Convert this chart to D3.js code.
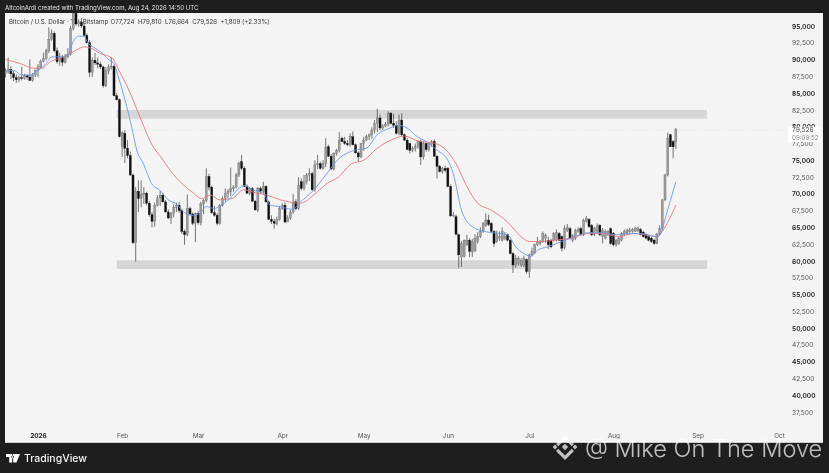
<!DOCTYPE html>
<html><head><meta charset="utf-8">
<script src="https://cdn.jsdelivr.net/npm/d3@7/dist/d3.min.js"></script>
<style>
html,body{margin:0;padding:0;background:#1e1e1e;overflow:hidden}
svg{display:block;filter:blur(0.3px)}
text{font-family:Inter,Roboto,"Liberation Sans",sans-serif}
</style></head><body><div id="c"></div>
<script>
const firstDay = "2025-12-20";
const opens = [
87900,88400,88500,87900,87300,87000,87300,87200,87600,87400,
86900,87700,88400,88900,89700,90200,91300,93000,93900,91300,
89700,90400,89600,90400,90800,94600,96900,95300,95600,95000,
93600,92500,88100,89900,89500,89300,88900,86100,88300,88900,
89000,84600,84000,77100,79000,76800,75700,72800,62700,70400,
69300,69900,70100,68600,66900,65900,68300,69400,69800,68800,
67300,66400,67100,68000,68300,67500,64400,63900,67800,67000,
65600,67100,65700,68500,69000,72600,71000,67200,66800,65600,
68300,69300,70100,70300,70800,71000,72800,74800,73800,71100,
70100,70800,68900,67600,70800,70400,71100,68800,66200,65900,
65600,66200,67800,68300,65800,66400,67300,68800,67800,71800,
70800,71800,72800,73000,70600,74300,74500,73800,74500,77000,
75600,73700,76000,76500,78300,77800,77500,77300,78500,77300,
76100,75500,77500,78000,78500,78800,79500,80500,81300,79800,
80100,80400,82000,80500,80200,79000,81000,78800,78000,77500,
76500,76800,77000,77800,75500,77500,76600,77300,77800,75600,
74100,73300,73800,73800,71100,66700,66600,63900,60600,60700,
62400,63100,61300,61500,62900,63600,64400,65300,66100,65600,
64400,62900,63400,63100,63300,63900,63100,61100,59400,59600,
59400,59400,60200,58400,60900,61200,62400,62600,62900,63400,
63100,63100,63100,63100,64100,63600,62000,64600,64800,63100,
63400,64400,64800,63900,65900,66200,65300,63900,64400,65300,
63600,63400,63900,64800,64100,62400,62600,63100,63900,64100,
64400,64400,64400,64500,64700,64300,63900,63600,63400,63100,
62600,64000,64800,69100,72800,78800,77800,77724];
const highs = [
88700,90300,89000,88300,87800,87600,88900,87900,87800,90000,
88000,88500,89300,90000,91000,91600,94800,94500,94200,91800,
91000,90700,90800,91700,95000,98000,97300,96000,96200,95500,
93900,92900,90300,91000,90300,89700,89100,88900,89300,90300,
89200,85000,84200,79300,79500,78000,76300,73000,71000,72000,
72000,71000,70300,68900,67300,68700,69800,70400,70100,69100,
67700,67300,68400,68700,68800,67800,64700,69900,68100,67200,
67200,67400,68800,69200,73800,73000,71200,68200,67100,68500,
69600,70800,70700,73900,71300,73100,74800,75800,74100,71400,
71000,71000,69100,71000,71100,71800,71300,69000,66800,66300,
66600,68200,68600,68700,66800,67600,70000,69200,72500,72300,
72800,73100,73800,73300,75000,75800,74800,75000,78300,77300,
75900,76200,76700,79200,78500,78500,78000,79000,79300,77500,
76300,77600,78500,78800,79000,79900,81000,82700,81800,80400,
80700,82300,82200,81900,80800,81800,82000,79000,78300,77600,
77100,77500,78000,78100,77800,77600,77600,78000,78100,75800,
74300,74000,74200,74000,71400,67300,66900,64100,63000,63200,
63900,63400,63300,64000,64300,65000,65800,67100,66900,65800,
64600,64500,64400,65000,64300,64100,63300,61300,60900,60700,
60400,60800,60400,61100,62000,62600,63600,63100,64400,64100,
63600,63300,64300,64700,64300,63800,65300,65500,65100,64000,
64800,65000,65100,66300,66700,66400,65500,65100,65600,65500,
64900,64700,64600,65000,64300,63300,63700,64300,64700,64800,
64900,64900,65100,65100,64900,64500,64100,63800,63600,63300,
64200,65300,69200,73000,79100,78900,78000,79810];
const lows = [
87300,87900,87100,86800,86500,86600,86900,87000,87000,86800,
86700,87400,87400,88700,89600,89900,91000,92800,91100,89400,
89100,89000,89400,90200,90600,94300,95000,94900,94700,93400,
92400,87400,87400,89200,88700,88600,85800,85900,87800,88500,
84500,83900,78400,75500,74600,75300,72700,62500,59900,67300,
68000,68500,68300,66600,65000,65100,68100,68200,68700,67200,
66200,65500,66500,67300,67200,64000,62400,63700,66800,65300,
62800,65400,65300,67000,68700,70500,67000,66600,65300,65400,
68100,68900,69300,69700,70300,70800,72500,73500,71000,70000,
69800,68800,67500,67300,70000,70100,68700,66100,65500,64800,
65300,66000,67600,65600,65800,66100,67000,67600,67600,70500,
70500,71400,71900,70400,70300,73700,73600,73600,74000,75500,
73500,73500,75700,76200,77700,77300,77100,77000,77200,76000,
74800,75300,76400,77900,78000,78200,79000,79200,79500,79500,
79900,80000,80300,79800,78800,78700,78600,77900,76500,76000,
76200,76300,76700,74300,75100,76300,76300,77000,75500,72300,
73200,73000,73200,71000,66600,66600,63800,58900,59100,60500,
62200,60600,60600,61300,62600,63400,64200,65100,65200,64200,
62100,62700,63000,62900,63100,62900,61000,58200,59000,59300,
59100,59100,58100,57500,60700,61000,62200,62300,62700,62700,
61800,61900,62900,62900,63000,61400,61700,64300,63200,62800,
63100,64200,63700,63700,65700,64900,63700,63700,64100,63700,
62600,63200,63700,62400,62200,62100,62400,62900,63700,63900,
64200,64200,64300,64300,63800,63500,63200,62900,62700,62400,
62500,63800,64500,68900,72600,77000,75300,76664];
const closes = [
88400,88500,87900,87300,87000,87300,87200,87600,87400,86900,
87700,88400,88900,89700,90200,91300,93000,93900,91300,89700,
90400,89600,90400,90800,94600,96900,95300,95600,95000,93600,
92500,88100,89900,89500,89300,88900,86100,88300,88900,89000,
84600,84000,78500,79100,76800,75700,72800,62700,70400,69300,
69900,70100,68600,66900,65900,68300,69400,69800,68800,67300,
66400,67100,68000,68300,67500,64400,63900,67800,67000,65600,
67100,65700,68500,69000,72600,71000,67200,66800,65600,68300,
69300,70100,70300,70800,71000,72800,74500,73800,71100,70100,
70800,68900,67600,70800,70400,71100,68800,66200,65900,65600,
66200,67800,68300,65800,66400,67300,68800,67800,71300,70800,
71800,72800,73000,70600,74300,74500,73800,74500,76900,75600,
73700,76000,76500,78000,77800,77500,77300,78500,77300,76100,
75500,77500,78000,78500,78800,79500,80500,81300,79800,80100,
80400,82000,80500,80200,79000,81000,78800,78000,76600,76500,
76800,77000,77800,75500,77500,76600,77500,77800,75600,74100,
73300,73800,73500,71100,66700,66800,64000,60900,62600,63100,
63100,61400,62900,63400,63600,64400,65600,66100,65400,64400,
62600,63900,63600,64400,63600,63100,61100,59400,60400,60400,
60100,60400,58400,60900,61400,62400,62900,62900,64100,63800,
62400,62100,64100,64200,63100,61900,64800,65000,63400,63800,
64600,64700,63900,66100,66300,65100,63900,64900,65200,63900,
64600,64400,64400,62600,62400,63100,63400,64100,64400,64600,
64600,64700,64900,64900,63900,63600,63400,63100,62900,62600,
64000,64800,69100,72800,78300,77000,77000,79526];

const blueDays = [0,3,6,9,12,15,17,20,23,25,27,29,30,33,35,38,40,41,44.7,46.5,48.4,50.8,53.9,57,60,63,65.6,69,71.7,74,77,79,82.7,86,88,91,95,97.6,101,105.7,108.7,113,118,123,128.6,133,137,141.7,144.8,148,151.7,155,159,163,165,168,172,176.5,185,188,191,193.6,196,199.7,205,209,214.5,220,225,229.5,234.3,240,242,243,245,247];
const blueValues = [88200,88400,87700,87700,88400,89400,90400,90400,90700,92700,93500,93500,92700,91700,91200,90000,89400,88200,83000,80000,76500,74500,71500,70500,69100,68500,67300,66800,67100,68100,67800,68200,69300,70800,71200,70600,70100,68300,68100,67700,68800,70300,72800,75300,76500,76800,78800,79800,80200,79800,78500,77800,76500,75000,73000,67600,65100,64400,63900,62100,61100,60700,61600,62100,62900,63500,64200,64200,63900,64100,64100,63600,64700,66200,69000,71800];
const redDays = [0,5.5,10.5,13.5,16.6,20,23,26,29,31.4,35,39.4,41.8,45.2,47,50,54,57.6,60.7,65.6,68.7,72.4,75.5,79,83.5,87.7,92.7,96.4,101.3,108.7,113.5,118.4,122.7,127.6,132,137,142,147,152.5,157.5,162.4,166,170,174,178.8,185,190,193,197.4,202.4,208.5,214.6,220.7,225.6,231.8,240.4,242,247];
const redValues = [90000,89400,88700,88700,89700,90200,90700,91400,91900,91700,90900,90200,88400,85700,84000,81000,77300,75300,73500,71300,70300,69300,69800,69100,69300,70600,70100,69800,69100,68600,69800,71500,72500,74500,75000,76800,78000,78600,77800,77600,76500,74500,71100,68600,67600,65800,63600,62900,62900,63100,63400,64100,64100,63600,64100,63600,64400,68300];

const zoneBands = [[82500,81200],[60100,58800]];
const zoneDays = ["2026-01-30","2026-10-01"];
const priceTicks = [95000,92500,90000,87500,85000,82500,80000,77500,75000,72500,70000,67500,65000,62500,60000,57500,55000,52500,50000,47500,45000,42500,40000,37500];
const monthTicks = ["2026-01-01","2026-02-01","2026-03-01","2026-04-01","2026-05-01","2026-06-01","2026-07-01","2026-08-01","2026-09-01","2026-10-01"];
const monthLabels = ["2026","Feb","Mar","Apr","May","Jun","Jul","Aug","Sep","Oct"];
const titleText = "AltcoinArdi created with TradingView.com, Aug 24, 2026 14:50 UTC";
const legendText = "Bitcoin / U.S. Dollar · 1D · Bitstamp";
const legendValues = "O77,724  H79,810  L76,664  C79,526  +1,809 (+2.33%)";
const lastPrice = 79526, countdown = "09:09:52";

const W=829,H=473, pL=5,pT=13,pR=823,pB=442;
const svg=d3.select("#c").append("svg").attr("width",W).attr("height",H);
svg.append("rect").attr("width",W).attr("height",H).attr("fill","#1e1e1e");
svg.append("rect").attr("x",pL).attr("y",pT).attr("width",pR-pL).attr("height",pB-pT).attr("fill","#f4f4f4");
svg.append("rect").attr("x",pL).attr("y",pB).attr("width",pR-pL).attr("height",1).attr("fill","#cfcfcf");
svg.append("clipPath").attr("id","pc").append("rect").attr("x",pL).attr("y",pT).attr("width",pR-pL).attr("height",pB-pT);

const parse=d3.utcParse("%Y-%m-%d");
const x=d3.scaleUtc().domain([parse("2026-01-01"),parse("2026-10-01")]).range([38,779]);
const y=d3.scaleLinear().domain([37500,95000]).range([412,26]);
const dayX=i=>x(new Date(+parse(firstDay)+i*864e5));

svg.append("text").attr("x",5).attr("y",10).attr("fill","#e4e4e4").attr("font-size",6.05).text(titleText);
const lg=svg.append("text").attr("x",9).attr("y",23.5).attr("fill","#333").attr("font-size",6.2);
lg.append("tspan").text(legendText);
lg.append("tspan").attr("x",110.5).attr("xml:space","preserve").text(legendValues);

const g=svg.append("g").attr("clip-path","url(#pc)");
zoneBands.forEach(b=>{
  g.append("rect").attr("x",x(parse(zoneDays[0]))).attr("width",707-x(parse(zoneDays[0])))
   .attr("y",y(b[0])).attr("height",y(b[1])-y(b[0])).attr("fill","#d6d6d6");
});
g.append("line").attr("x1",pL).attr("x2",788).attr("y1",y(lastPrice)).attr("y2",y(lastPrice))
 .attr("stroke","#d8d8d8").attr("stroke-width",0.5).attr("stroke-dasharray","1 2");

const idx=d3.range(closes.length);
g.selectAll(".w").data(idx).join("line").attr("x1",dayX).attr("x2",dayX)
 .attr("y1",i=>y(highs[i])).attr("y2",i=>y(lows[i])).attr("stroke","#3c3c3c").attr("stroke-width",0.7);
g.selectAll(".b").data(idx).join("rect").attr("x",i=>dayX(i)-1.05).attr("width",2.1)
 .attr("y",i=>y(Math.max(opens[i],closes[i])))
 .attr("height",i=>Math.max(0.7,Math.abs(y(opens[i])-y(closes[i]))))
 .attr("fill",i=>closes[i]>=opens[i]?"#9c9c9c":"#111")
 .attr("stroke",i=>closes[i]>=opens[i]?"#666":"#111").attr("stroke-width",0.3);

const line=d3.line().x(d=>dayX(d[0])).y(d=>y(d[1])).curve(d3.curveMonotoneX);
g.append("path").attr("d",line(redDays.map((d,i)=>[d,redValues[i]]))).attr("fill","none").attr("stroke","#e8787f").attr("stroke-width",0.9);
g.append("path").attr("d",line(blueDays.map((d,i)=>[d,blueValues[i]]))).attr("fill","none").attr("stroke","#6f98e6").attr("stroke-width",0.9);

const ya=d3.axisRight(y).tickValues(priceTicks).tickSize(0).tickPadding(0).tickFormat(d3.format(","));
const yg=svg.append("g").attr("transform","translate(792,0)").call(ya);
yg.select(".domain").remove();
yg.selectAll("text").attr("font-size",6.6).attr("fill",d=>d%5000===0?"#222":"#555").attr("font-weight",d=>d%5000===0?600:400).attr("font-family","Inter,Roboto,sans-serif");
const xa=d3.axisBottom(x).tickValues(monthTicks.map(parse)).tickSize(0).tickPadding(0).tickFormat((d,i)=>monthLabels[i]);
const xg=svg.append("g").attr("transform","translate(0,433)").call(xa);
xg.select(".domain").remove();
xg.selectAll("text").attr("font-size",6.4).attr("fill",(d,i)=>i===0?"#222":"#555").attr("font-weight",(d,i)=>i===0?700:400).attr("font-family","Inter,Roboto,sans-serif");

svg.append("rect").attr("x",788).attr("y",126.5).attr("width",33).attr("height",15.5).attr("fill","#fff");
svg.append("text").attr("x",792).attr("y",y(lastPrice)+2.3).attr("font-size",6.6).attr("fill","#444").text(d3.format(",")(lastPrice));
svg.append("text").attr("x",792).attr("y",139.5).attr("font-size",6.2).attr("fill","#888").text(countdown);

// footer logo
svg.append("path").attr("d","M6 454h6.2v8.6h-3v-5.6H6zM13 454h7l-3.6 8.6h-3.1zM12.6 455.5a1.4 1.4 0 1 0 .1 0z").attr("fill","#fff");
svg.append("text").attr("x",24).attr("y",461.5).attr("font-size",10.5).attr("font-weight",500).attr("fill","#f2f2f2").text("TradingView");

// watermark
const wm=svg.append("g").attr("fill","#fff").attr("fill-opacity",0.72);
const dm=(cx,cy,r)=>`M${cx} ${cy-r}L${cx+r} ${cy}L${cx} ${cy+r}L${cx-r} ${cy}Z`;
wm.append("path").attr("d",dm(565,447,3.2));
wm.append("path").attr("d",dm(555,447,2.4));
wm.append("path").attr("d",dm(575,447,2.4));
wm.append("path").attr("d","M565 435l9 9-2.3 2.3-6.7-6.7-6.7 6.7-2.3-2.3zM565 460l9-9-2.3-2.3-6.7 6.7-6.7-6.7-2.3 2.3z");
wm.append("text").attr("x",585).attr("y",457).attr("font-size",23.6).attr("font-weight",300).text("@ Mike On The Move");
</script></body></html>
